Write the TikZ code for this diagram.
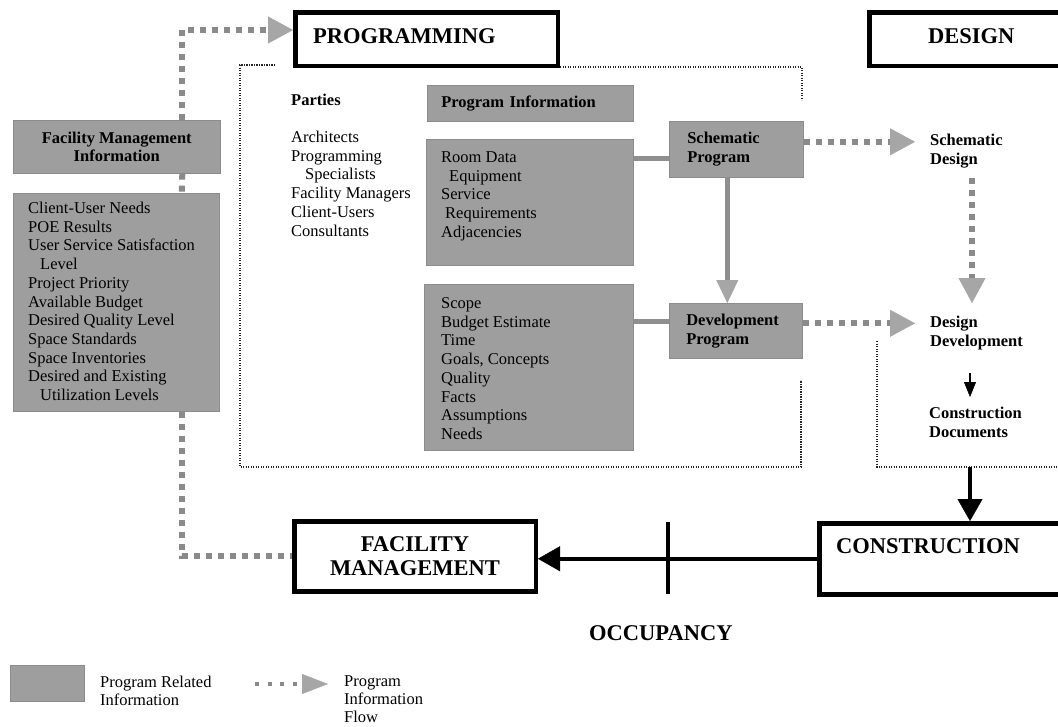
\documentclass[tikz,border=0pt]{standalone}
\usepackage{fontspec}
\setmainfont{Liberation Serif}
\usetikzlibrary{arrows.meta}
\definecolor{boxgray}{HTML}{9E9E9E}
\definecolor{boxedge}{HTML}{8C8C8C}
\definecolor{dotgray}{HTML}{8A8A8A}
\definecolor{agray}{HTML}{A6A6A6}
\definecolor{lgray}{HTML}{8F8F8F}
\begin{document}
\begin{tikzpicture}[x=1pt,y=-1pt,
  body/.style={font=\fontsize{16.5}{18.7}\selectfont, inner sep=0pt, anchor=north west, align=left},
  legtext/.style={body, font=\fontsize{16.5}{18}\selectfont},
  bodyb/.style={body, font=\fontsize{16.5}{18.7}\selectfont\bfseries},
  big/.style={font=\fontsize{22.5}{23.5}\selectfont\bfseries, inner sep=0pt},
  bigbox/.style={draw=black, line width=4.5pt, fill=white, inner sep=0pt, anchor=north west},
  graybox/.style={fill=boxgray, draw=boxedge, line width=0.6pt, inner sep=0pt, anchor=north west},
  gdots/.style={draw=dotgray, line width=6pt, dash pattern=on 6pt off 6pt},
  gflow/.style={gdots, -{Triangle[length=25pt,width=27pt,line width=0.4pt,color=agray]}},
  gline/.style={draw=lgray, line width=5pt},
  garrow/.style={gline, -{Triangle[length=23pt,width=22pt,line width=0.4pt,color=agray]}},
  barrow/.style={draw=black, line width=4pt, -{Triangle[length=22pt,width=25pt,line width=0.4pt]}},
  bsmall/.style={draw=black, line width=1.5pt, -{Triangle[length=15pt,width=12pt,line width=0.4pt]}},
  tdots/.style={draw=black!85, line width=1.5pt, dash pattern=on 1.3pt off 1.2pt},
  legflow/.style={draw=dotgray, line width=4pt, dash pattern=on 4pt off 8.5pt, -{Triangle[length=26pt,width=20pt,line width=0.4pt,color=agray]}}
]
\useasboundingbox (0,0) rectangle (1058,726);
\clip (0,0) rectangle (1058,726);

% dotted phase regions
\draw[tdots] (275,65) -- (240,65) -- (240,467) -- (801,467) -- (801,380);
\draw[tdots] (560,67) -- (802,67) -- (802,100);
\draw[tdots] (877,341) -- (877,467) -- (1062,467);

% main phase boxes
\node[bigbox, minimum width=262.5pt, minimum height=53.5pt] (prog) at (293,10) {};
\node[bigbox, minimum width=215pt, minimum height=53.5pt] (des) at (867,10) {};
\node[bigbox, minimum width=250pt, minimum height=71pt] (con) at (817,521) {};
\node[bigbox, minimum width=241.5pt, minimum height=70pt, align=center,
      font=\fontsize{22.5}{23.5}\selectfont\bfseries] (fac) at (292,519) {FACILITY\\MANAGEMENT};

\node[big, anchor=base west] (progt) at (313,43) {PROGRAMMING};
\node[big, anchor=base west] (dest) at (928,43) {DESIGN};
\node[big, anchor=base west] (cont) at (836,553.5) {CONSTRUCTION};
\node[big, anchor=base west] (occ) at (589,640) {OCCUPANCY};

% facility management information
\node[graybox, minimum width=207pt, minimum height=53pt, align=center,
      font=\fontsize{16.5}{18.7}\selectfont\bfseries] (fmi) at (13,120) {Facility Management\\Information};
\node[graybox, minimum width=206pt, minimum height=218pt] (fmil) at (13,193) {};
\node[body] (fmilt) at (28,200.3) {\strut Client-User Needs\\POE Results\\User Service Satisfaction\\\hspace*{12pt}Level\\Project Priority\\Available Budget\\Desired Quality Level\\Space Standards\\Space Inventories\\Desired and Existing\\\hspace*{12pt}Utilization Levels};

% parties
\node[bodyb] (part) at (291,92.3) {\strut Parties};
\node[body] (partl) at (291,129.3) {\strut Architects\\Programming\\\hspace*{14pt}Specialists\\Facility Managers\\Client-Users\\Consultants};

% program information
\node[graybox, minimum width=206pt, minimum height=36pt, text width=178pt, inner xsep=14pt, align=left,
      font=\fontsize{16.5}{18.7}\selectfont\bfseries] (pinf) at (427,85) {Program Information};
\node[graybox, minimum width=207pt, minimum height=126pt] (rd) at (426,139) {};
\node[body] (rdt) at (441,149.3) {\strut Room Data\\\hspace*{8pt}Equipment\\Service\\\hspace*{4pt}Requirements\\Adjacencies};
\node[graybox, minimum width=209pt, minimum height=166pt] (sc) at (424,284) {};
\node[body] (sct) at (441,295.3) {\strut Scope\\Budget Estimate\\Time\\Goals, Concepts\\Quality\\Facts\\Assumptions\\Needs};

\node[graybox, minimum width=134pt, minimum height=56pt, text width=98pt, inner xsep=18pt, align=left,
      font=\fontsize{16.5}{18.7}\selectfont\bfseries] (sp) at (669,121) {Schematic\\Program};
\node[graybox, minimum width=133pt, minimum height=55pt, text width=99pt, inner xsep=17pt, align=left,
      font=\fontsize{16.5}{18.7}\selectfont\bfseries] (dp) at (669,303) {Development\\Program};

% design stages
\node[bodyb, inner xsep=15pt, inner ysep=0pt] (sd) at (915,132.3) {\strut Schematic\\Design};
\node[bodyb, inner xsep=15pt, inner ysep=0pt] (dd) at (915,314.3) {\strut Design\\Development};
\node[bodyb] (cd) at (929,405.3) {\strut Construction\\Documents};

% gray information flows
\draw[gflow] ([xshift=65.5pt]fmi.north) |- ([yshift=9pt]prog.west);
\draw[gdots] ([xshift=65.5pt]fmi.south) -- ([xshift=65.5pt]fmil.north);
\draw[gdots] ([xshift=66pt]fmil.south) |- (fac.west);

\coordinate (a1) at ([yshift=-9pt]sp.west);
\draw[gline] (rd.east |- a1) -- (a1);
\coordinate (b1) at ([yshift=9.5pt]dp.west);
\draw[gline] (sc.east |- b1) -- (b1);
\coordinate (c1) at ([xshift=-9pt]sp.south);
\draw[garrow] (c1) -- (c1 |- dp.north);

\coordinate (d1) at ([yshift=7.5pt]sp.east);
\draw[gflow] (d1) -- (d1 -| sd.west);
\coordinate (f1) at ([yshift=7.5pt]dp.east);
\draw[gflow] (f1) -- (f1 -| dd.west);
\draw[gflow, shorten <=10.3pt, shorten >=11.3pt] (sd.south -| 972,0) -- (dd.north -| 972,0);

% black flows
\draw[bsmall, shorten <=23.3pt, shorten >=8.3pt] (dd.south -| 970,0) -- (cd.north -| 970,0);
\coordinate (g1) at (970,467);
\draw[barrow] (g1) -- (g1 |- con.north);
\draw[barrow] (con.west) -- (con.west -| fac.east);
\coordinate (tk) at (668,558);
\draw[line width=4pt] (tk |- 0,522) -- (tk |- 0,594);

% legend
\node[graybox, minimum width=74pt, minimum height=36pt] (legbox) at (10,665) {};
\node[legtext] (legbt) at (100,674.3) {\strut Program Related\\Information};
\coordinate (lf1) at (255,684);
\coordinate (lf2) at (328,684);
\draw[legflow] (lf1) -- (lf2);
\node[legtext] (legft) at (344,673.3) {\strut Program\\Information\\Flow};
\end{tikzpicture}
\end{document}
